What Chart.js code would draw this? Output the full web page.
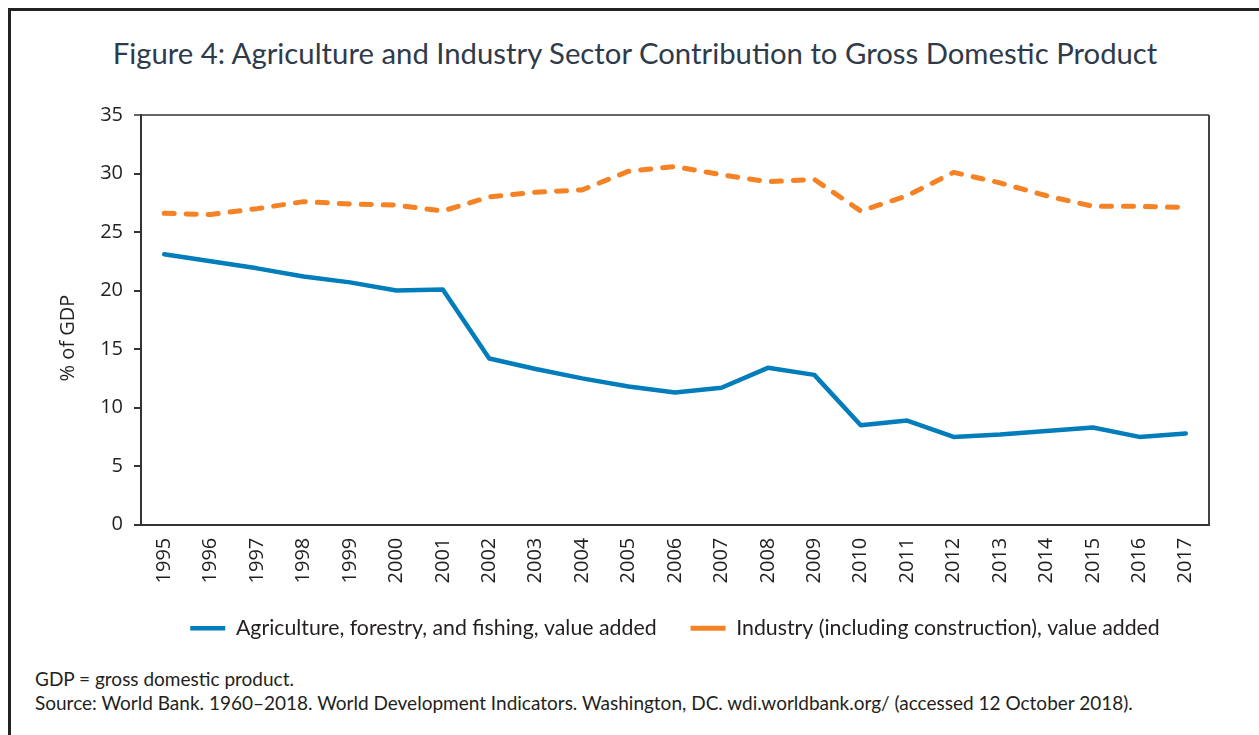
<!DOCTYPE html>
<html>
<head>
<meta charset="utf-8">
<script src="https://cdn.jsdelivr.net/npm/chart.js@4.4.0/dist/chart.umd.min.js"></script>
<style>
  body { margin: 0; background: #fff; width: 1259px; height: 735px; overflow: hidden; position: relative; }
  .frame { position: absolute; left: 8px; top: 8px; width: 1300px; height: 800px; border: 3px solid #222; box-sizing: border-box; }
  h1 { position: absolute; left: 0; top: 37px; width: 1270px; margin: 0; text-align: center;
       font: 400 29.3px Lato, sans-serif; line-height: 32px; color: #2f3a4a; }
  #wrap { position: absolute; left: 0; top: 0; width: 1259px; height: 649px; }
  .notes { position: absolute; left: 35px; top: 667px; font: 19px Lato, sans-serif; line-height: 24px; color: #231f20; }
</style>
</head>
<body>
<div class="frame"></div>
<h1>Figure 4: Agriculture and Industry Sector Contribution to Gross Domestic Product</h1>
<div id="wrap"><canvas id="chart"></canvas></div>
<div class="notes">
  GDP = gross domestic product.<br>
  Source: World Bank. 1960–2018. World Development Indicators. Washington, DC. wdi.worldbank.org/ (accessed 12 October 2018).
</div>
<script>
var years = ["1995", "1996", "1997", "1998", "1999", "2000", "2001", "2002", "2003", "2004", "2005", "2006",
             "2007", "2008", "2009", "2010", "2011", "2012", "2013", "2014", "2015", "2016", "2017"]
var agriculture = [23.1, 22.5, 21.9, 21.2, 20.7, 20.0, 20.1, 14.2, 13.3, 12.5, 11.8, 11.3,
                   11.7, 13.4, 12.8, 8.5, 8.9, 7.5, 7.7, 8.0, 8.3, 7.5, 7.8]
var industry = [26.6, 26.5, 27.0, 27.6, 27.4, 27.3, 26.8, 28.0, 28.4, 28.6, 30.2, 30.6,
                29.9, 29.3, 29.5, 26.8, 28.1, 30.1, 29.2, 28.1, 27.2, 27.2, 27.1]
var yTicks = [0, 5, 10, 15, 20, 25, 30, 35]

// y axis title sits a bit lower than the plot middle, and the plot has a right edge
var extras = {
    id: 'extras',
    afterDraw: function (chart) {
        var c = chart.ctx, a = chart.chartArea
        c.save()
        c.strokeStyle = '#444'
        c.lineWidth = 2
        c.beginPath()
        c.moveTo(a.right, a.top)
        c.lineTo(a.right, a.bottom)
        c.stroke()
        c.translate(68, 338)
        c.rotate(-Math.PI / 2)
        c.fillStyle = '#231f20'
        c.font = '20px "Open Sans"'
        c.textAlign = 'center'
        c.textBaseline = 'middle'
        c.fillText('% of GDP', 0, 0)
        c.restore()
    }
}

var ctx = document.getElementById('chart')
var lineChart = new Chart(ctx, {
    type: 'line',
    data: {
        labels: years,
        datasets: [{
            label: "Agriculture, forestry, and fishing, value added",
            data: agriculture,
            borderColor: "rgb(0, 125, 186)",
            backgroundColor: "rgb(0, 125, 186)",
            borderWidth: 4.5,
            borderCapStyle: 'round',
            borderJoinStyle: 'round',
            pointRadius: 0,
            tension: 0,
            pointStyle: 'line'
        }, {
            label: "Industry (including construction), value added",
            data: industry,
            borderColor: "rgb(245, 130, 36)",
            backgroundColor: "rgb(245, 130, 36)",
            borderWidth: 5,
            borderDash: [10, 12],
            borderCapStyle: 'round',
            borderJoinStyle: 'round',
            pointRadius: 0,
            tension: 0,
            pointStyle: 'line'
        }]
    },
    options: {
        responsive: true,
        maintainAspectRatio: false,
        animation: false,
        layout: { padding: { top: 115, right: 50, left: 0, bottom: 0 } },
        plugins: {
            tooltip: { enabled: false },
            legend: {
                position: 'bottom',
                fullSize: false,
                labels: {
                    usePointStyle: true,
                    pointStyleWidth: 35,
                    padding: 34,
                    color: '#231f20',
                    font: { family: 'Lato', size: 21.3 }
                }
            }
        },
        scales: {
            x: {
                offset: true,
                grid: { display: false },
                border: { color: '#333', width: 2 },
                ticks: {
                    minRotation: 90, maxRotation: 90, padding: 5,
                    color: '#231f20',
                    font: { family: 'Open Sans', size: 20 }
                },
                afterFit: function (s) { s.height = 59 }
            },
            y: {
                min: 0, max: 35,
                afterBuildTicks: function (s) { s.ticks = yTicks.map(function (v) { return { value: v } }) },
                grid: {
                    color: function (c) { return c.tick && c.tick.value === 35 ? '#666' : 'rgba(0,0,0,0)' },
                    tickColor: function (c) { return c.tick && c.tick.value === 35 ? '#666' : '#333' },
                    lineWidth: 2,
                    tickLength: 7
                },
                border: { color: '#333', width: 2 },
                ticks: {
                    padding: 11,
                    color: '#231f20',
                    font: { family: 'Open Sans', size: 20 }
                },
                afterFit: function (s) { s.width = 141 }
            }
        }
    },
    plugins: [extras]
})
</script>
</body>
</html>
